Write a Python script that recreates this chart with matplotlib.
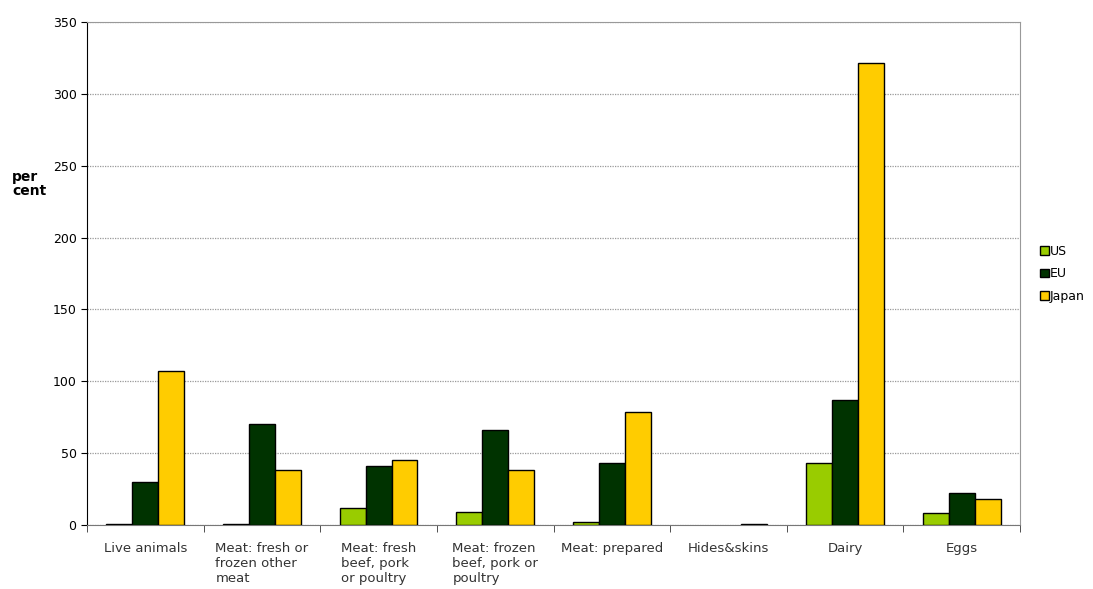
import matplotlib
matplotlib.use("Agg")
import matplotlib.pyplot as plt
import numpy as np
from matplotlib.patches import Patch

categories = ["Live animals", "Meat: fresh or\nfrozen other\nmeat", "Meat: fresh\nbeef, pork\nor poultry",
              "Meat: frozen\nbeef, pork or\npoultry", "Meat: prepared", "Hides&skins", "Dairy", "Eggs"]
us = [0.5, 0.5, 12, 8.8, 1.9, 0, 43, 8.6]
eu = [30, 70, 41, 66, 43, 0, 87, 22]
japan = [107, 38.5, 45, 38, 78.5, 0.5, 321.5, 18.3]
series_names = ["US", "EU", "Japan"]
colors = ["#99CC00", "#003300", "#FFCC00"]

fig = plt.figure(figsize=(10.93, 5.89), dpi=100)
ax = fig.add_axes([87/1093, 1-525/589, (1020-87)/1093, (525-22)/589])

x = np.arange(len(categories))
w = 0.222
for i, (vals, c) in enumerate(zip([us, eu, japan], colors)):
    lws = [0 if v == 0 else 1.0 for v in vals]
    ax.bar(x + (i-1)*w, vals, w, color=c, edgecolor="black", linewidth=lws, zorder=3)

ax.set_xlim(-0.5, len(categories)-0.5)
ax.set_ylim(0, 350)
ax.set_yticks(np.arange(0, 351, 50))
ax.yaxis.grid(True, linestyle=(0, (1, 1)), color="#999999", linewidth=0.9, zorder=0)
ax.set_xticks(x)
ax.set_xticklabels(categories, fontsize=9.5, color="#333333", multialignment="left", va="top")
ax.tick_params(axis="x", length=0, pad=12)
ax.set_xticks(np.arange(-0.5, len(categories)), minor=True)
ax.tick_params(axis="x", which="minor", length=5, direction="out", color="#333333")
ax.tick_params(axis="y", length=4, labelsize=9, direction="out")
for s in ["top", "right"]:
    ax.spines[s].set_color("#999999")
ax.spines["bottom"].set_color("#777777")
ax.spines["left"].set_color("black")

fig.text(12/1093, 1-184/589, "per\ncent", fontsize=10, fontweight="bold", va="center", ha="left",
         linespacing=1.0)

handles = [Patch(facecolor=c, edgecolor="black", label=n) for n, c in zip(series_names, colors)]
fig.legend(handles=handles, loc="center left", bbox_to_anchor=(1040/1093, 1-274/589), frameon=False,
           fontsize=9, handlelength=0.7, handleheight=0.7, handletextpad=0.1, labelspacing=0.75,
           borderaxespad=0, borderpad=0)

fig.savefig("out.png", dpi=100)
